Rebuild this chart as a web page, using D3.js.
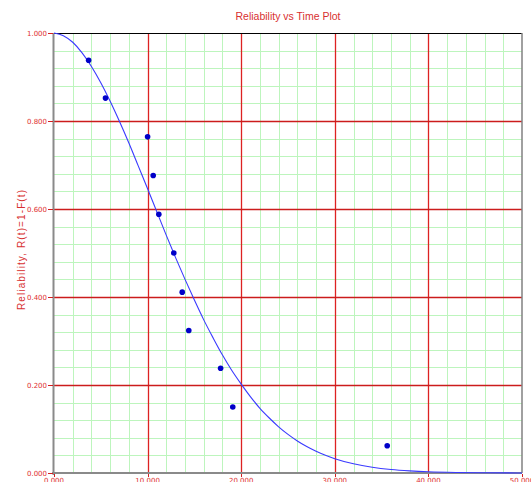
<!DOCTYPE html>
<html>
<head>
<meta charset="utf-8">
<script src="https://cdn.jsdelivr.net/npm/d3@7"></script>
<style>
  body { margin: 0; background: #fff; }
  svg { display: block; font-family: Tahoma, "DejaVu Sans", sans-serif; }
  .tick-label { fill: #e03030; font-size: 7px; }
  .title { fill: #d83030; font-size: 10.5px; font-family: "Liberation Sans", Arial, sans-serif; }
  .axis-label { fill: #d83030; font-size: 10px; font-family: "Liberation Sans", Arial, sans-serif; }
</style>
</head>
<body>
<svg></svg>
<script>
const margin = { top: 33, right: 9, bottom: 9, left: 54 };
const width = 531 - margin.left - margin.right;
const height = 482 - margin.top - margin.bottom;

// failure times and median-rank reliability
const pointTimes = [3.7, 5.5, 10.0, 10.6, 11.2, 12.8, 13.7, 14.4, 17.8, 19.1, 35.6];
const pointRel = [0.938, 0.852, 0.764, 0.676, 0.588, 0.500, 0.411, 0.324, 0.238, 0.150, 0.062];

// fitted reliability line, values read at chosen times
const curveTimes = [0, 1, 2, 3, 4, 5, 6, 7, 8, 9, 10, 11, 12, 13, 14, 15, 16, 17, 18, 19, 20,
  21, 22, 23, 24, 25, 26, 27, 28, 29, 30, 32, 34, 36, 38, 40, 43, 46, 50];
const curveRel = [1.0, 0.994, 0.979, 0.955, 0.924, 0.887, 0.845, 0.799, 0.750, 0.698, 0.646,
  0.593, 0.540, 0.489, 0.440, 0.393, 0.348, 0.307, 0.268, 0.233, 0.202,
  0.173, 0.147, 0.125, 0.105, 0.0878, 0.0729, 0.0602, 0.0494, 0.0403, 0.0326,
  0.0210, 0.0132, 0.0081, 0.0049, 0.0028, 0.0012, 0.0005, 0.0001];

const xTicks = [0, 10, 20, 30, 40, 50];
const yTicks = [0, 0.2, 0.4, 0.6, 0.8, 1.0];
const xMinor = [2, 4, 6, 8, 12, 14, 16, 18, 22, 24, 26, 28, 32, 34, 36, 38, 42, 44, 46, 48];
const yMinor = [0.04, 0.08, 0.12, 0.16, 0.24, 0.28, 0.32, 0.36, 0.44, 0.48, 0.52, 0.56,
  0.64, 0.68, 0.72, 0.76, 0.84, 0.88, 0.92, 0.96];

const svg = d3.select("svg")
    .attr("width", 531)
    .attr("height", 482);

const g = svg.append("g")
    .attr("transform", `translate(${margin.left},${margin.top})`);

const x = d3.scaleLinear().domain([0, 50]).range([0, width]);
const y = d3.scaleLinear().domain([0, 1]).range([height, 0]);
const px = v => Math.round(v) + 0.5;

// minor green grid
g.selectAll(".minor-x").data(xMinor).join("line")
  .attr("x1", d => px(x(d))).attr("x2", d => px(x(d)))
  .attr("y1", 0).attr("y2", height)
  .attr("stroke", "#bdf5bd").attr("stroke-width", 1);
g.selectAll(".minor-y").data(yMinor).join("line")
  .attr("y1", d => px(y(d))).attr("y2", d => px(y(d)))
  .attr("x1", 0).attr("x2", width)
  .attr("stroke", "#bdf5bd").attr("stroke-width", 1);

// major red grid
g.selectAll(".major-x").data(xTicks.slice(1, -1)).join("line")
  .attr("x1", d => px(x(d))).attr("x2", d => px(x(d)))
  .attr("y1", 0).attr("y2", height)
  .attr("stroke", "#dd2222").attr("stroke-width", 1.3);
g.selectAll(".major-y").data(yTicks.slice(1, -1)).join("line")
  .attr("y1", d => px(y(d))).attr("y2", d => px(y(d)))
  .attr("x1", 0).attr("x2", width)
  .attr("stroke", "#cc1c1c").attr("stroke-width", 1.3);

// frame
g.append("line").attr("x1", 0).attr("x2", width).attr("y1", 0.5).attr("y2", 0.5)
  .attr("stroke", "#000").attr("stroke-width", 1);
g.append("line").attr("x1", width).attr("x2", width).attr("y1", 0).attr("y2", height)
  .attr("stroke", "#808080").attr("stroke-width", 1.5);
g.append("line").attr("x1", -0.5).attr("x2", -0.5).attr("y1", 0).attr("y2", height + 2)
  .attr("stroke", "#8a8a8a").attr("stroke-width", 2);
g.append("line").attr("x1", -2).attr("x2", width).attr("y1", height).attr("y2", height)
  .attr("stroke", "#8a8a8a").attr("stroke-width", 2);

// tick marks and labels
g.selectAll(".ytick").data(yTicks).join("line")
  .attr("x1", -6).attr("x2", -1)
  .attr("y1", d => px(y(d))).attr("y2", d => px(y(d)))
  .attr("stroke", "#d42020");
g.selectAll(".ylab").data(yTicks).join("text")
  .attr("class", "tick-label")
  .attr("x", -7).attr("y", d => y(d) + 2.5)
  .attr("text-anchor", "end")
  .text(d3.format(".3f"));

g.selectAll(".xtick").data(xTicks).join("line")
  .attr("x1", d => px(x(d))).attr("x2", d => px(x(d)))
  .attr("y1", height + 1).attr("y2", height + 4)
  .attr("stroke", "#d42020");
g.selectAll(".xlab").data(xTicks).join("text")
  .attr("class", "tick-label")
  .attr("x", d => x(d)).attr("y", height + 10)
  .attr("text-anchor", "middle")
  .text(d3.format(".3f"));

// fitted line
const line = d3.line()
  .x((d, i) => x(curveTimes[i]))
  .y(d => y(d))
  .curve(d3.curveMonotoneX);

g.append("path")
  .datum(curveRel)
  .attr("fill", "none")
  .attr("stroke", "#3a3aff")
  .attr("stroke-width", 1.1)
  .attr("d", line);

// data points
g.selectAll(".pt").data(pointTimes).join("circle")
  .attr("cx", d => x(d))
  .attr("cy", (d, i) => y(pointRel[i]))
  .attr("r", 2.8)
  .attr("fill", "#0000c8");

// titles
svg.append("text")
  .attr("class", "title")
  .attr("x", margin.left + width / 2)
  .attr("y", 20)
  .attr("text-anchor", "middle")
  .text("Reliability vs Time Plot");

svg.append("text")
  .attr("class", "axis-label")
  .attr("transform", "rotate(-90)")
  .attr("x", -(margin.top + height / 2) + 3)
  .attr("y", 25)
  .attr("text-anchor", "middle")
  .attr("textLength", 120)
  .attr("lengthAdjust", "spacing")
  .text("Reliability, R(t)=1-F(t)");
</script>
</body>
</html>
